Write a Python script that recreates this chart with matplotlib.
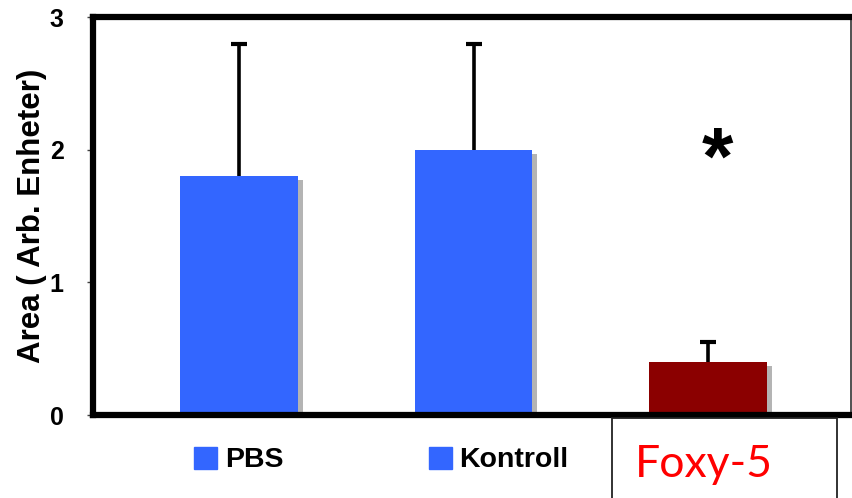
import matplotlib

matplotlib.use("Agg")

import matplotlib.pyplot as plt
import numpy as np
from matplotlib.patches import Rectangle

categories = ["PBS", "Kontroll", "Foxy-5"]
means = [1.8, 2.0, 0.4]
err_up = [1.0, 0.8, 0.15]
bar_colors = ["#3366FF", "#3366FF", "#8B0000"]
yticks = [0, 1, 2, 3]
star_y = 1.9

plt.rcParams["font.family"] = ["Liberation Sans", "DejaVu Sans"]

fig = plt.figure(figsize=(8.52, 4.98), dpi=100)
ax = fig.add_axes([93 / 852, 83 / 498, 758 / 852, 398 / 498])

x = np.arange(len(categories))
width = 0.5
# drop shadows behind the bars
ax.bar(x + 0.021, means, width, bottom=-0.03, color="#B4B4B4", zorder=1)
ax.bar(x, means, width, color=bar_colors, zorder=2)
_, caps, _ = ax.errorbar(x, means, yerr=[np.zeros(len(x)), err_up], fmt="none",
                         ecolor="black", elinewidth=2.6, capsize=6, capthick=3,
                         zorder=3)
caps[0].set_visible(False)  # upper error only

ax.text(x[2] + 0.04, star_y, "*", ha="center", va="center",
        fontsize=58, fontweight="bold")

ax.set_xlim(-0.623, 2.61)
ax.set_ylim(0, 3)
ax.set_xticks([])
ax.set_yticks(yticks)
ax.set_yticklabels([str(t) for t in yticks], fontsize=18, fontweight="bold")
ax.tick_params(axis="y", length=4, width=1, color="#444444", pad=17)
ax.set_ylabel("Area ( Arb. Enheter)", fontsize=22.5, fontweight="bold", labelpad=2)

for side in ["left", "top", "bottom"]:
    ax.spines[side].set_linewidth(4.5)
ax.spines["right"].set_linewidth(1.2)
ax.spines["right"].set_color("#333333")

# category labels below the axis
for i, name in enumerate(categories[:2]):
    cx = ax.transData.transform((x[i], 0))[0] / 852
    sq_x = cx - 45 / 852
    fig.patches.append(Rectangle((sq_x, 29 / 498), 23 / 852, 22 / 498,
                                 transform=fig.transFigure, color="#3366FF"))
    fig.text(sq_x + 31 / 852, 38 / 498, name, fontsize=20.5, fontweight="bold",
             ha="left", va="center")

fig.patches.append(Rectangle((612 / 852, -0.05), 225 / 852, 80 / 498 + 0.05,
                             transform=fig.transFigure, fill=False,
                             edgecolor="#222222", linewidth=1.3))
fig.text(704 / 852, 34 / 498, categories[2], fontsize=32, color="red",
         family=["Lato", "DejaVu Sans"], ha="center", va="center")

fig.savefig("out.png", dpi=100)
